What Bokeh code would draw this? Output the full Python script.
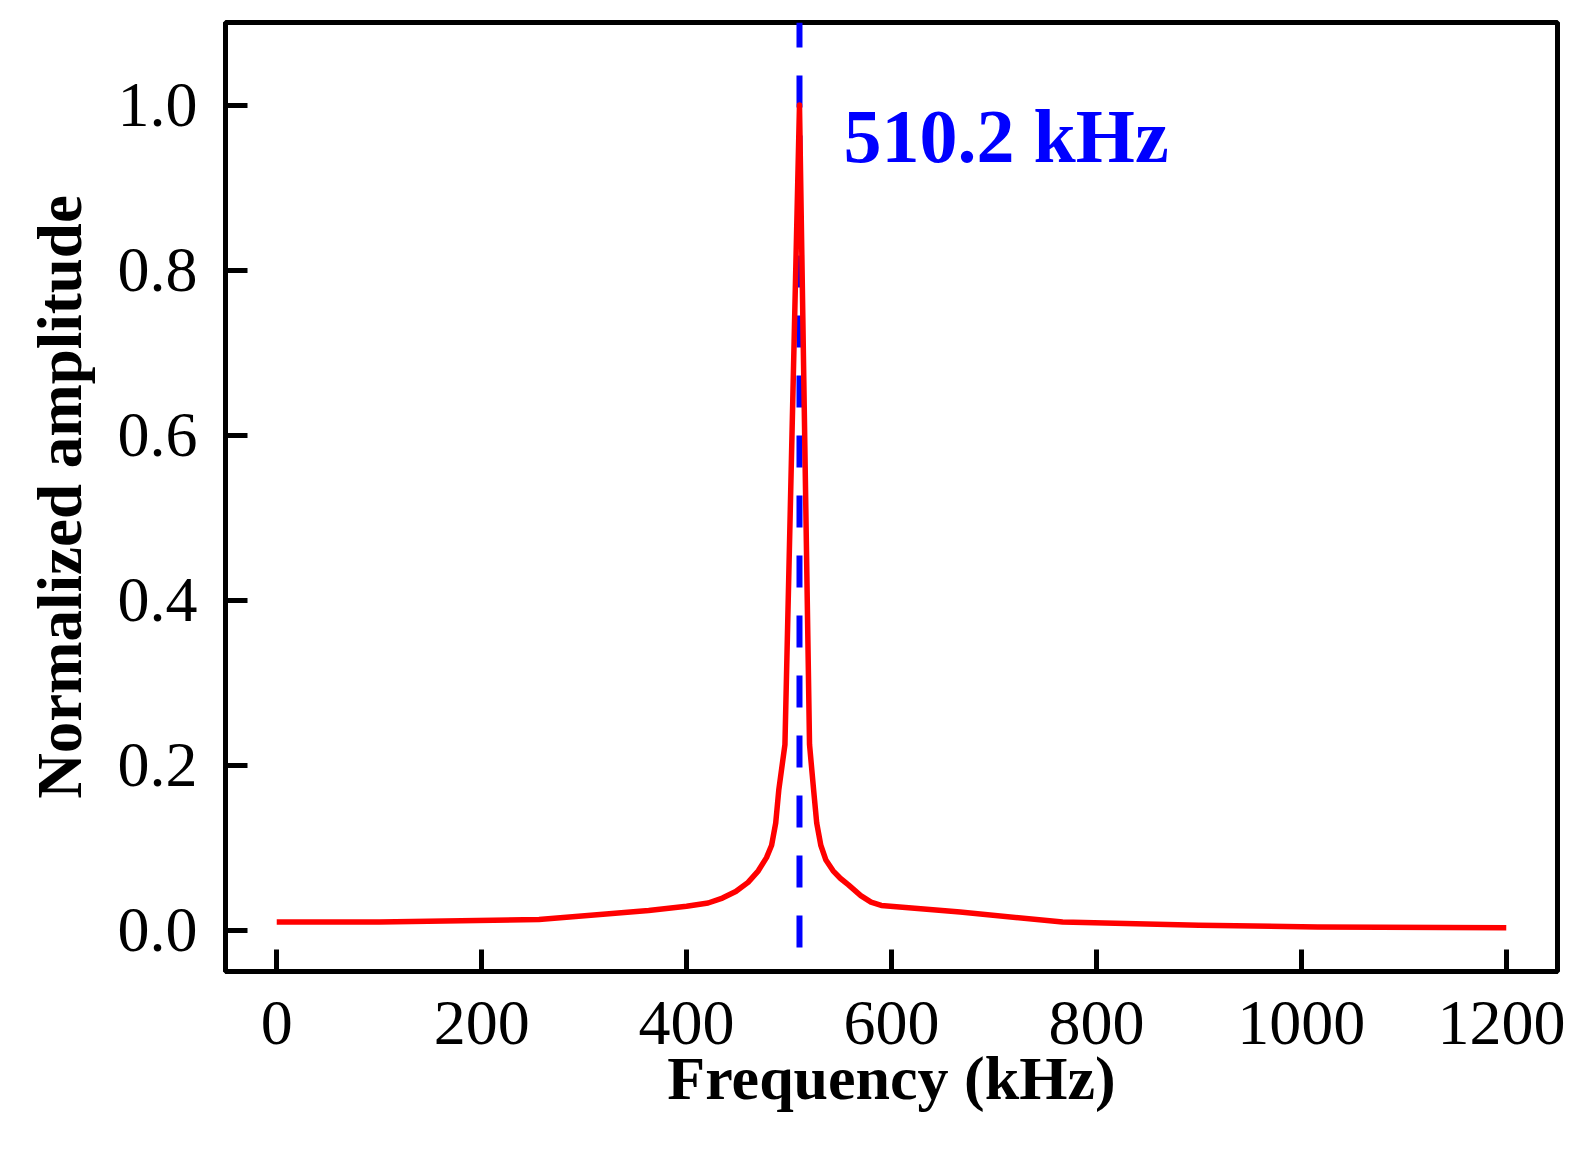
from bokeh.plotting import figure
from bokeh.models import Range1d, FixedTicker, ColumnDataSource, Label
from bokeh.embed import file_html
from bokeh.resources import INLINE

# Data
freq_khz = [0, 100, 256, 363, 400, 421, 435, 448, 460, 470, 478, 483, 487, 490, 496, 510.2,
            520, 524, 527, 531, 536, 543, 550, 558, 570, 580, 590, 667, 767, 900, 1016, 1200]
amplitude = [0.010, 0.010, 0.013, 0.024, 0.029, 0.033, 0.039, 0.047, 0.058, 0.072, 0.088, 0.103,
             0.130, 0.170, 0.225, 1.0,
             0.225, 0.170, 0.130, 0.103, 0.085, 0.072, 0.063, 0.055, 0.042, 0.034, 0.030, 0.022,
             0.010, 0.006, 0.004, 0.003]
peak_freq = 510.2
peak_label = "510.2 kHz"
x_ticks = [0, 200, 400, 600, 800, 1000, 1200]
y_ticks = [0.0, 0.2, 0.4, 0.6, 0.8, 1.0]
x_title = "Frequency (kHz)"
y_title = "Normalized amplitude"

FONT = "Liberation Serif"

p = figure(width=1565, height=1138, output_backend="svg", toolbar_location=None,
           x_range=Range1d(-50, 1250), y_range=Range1d(-0.05, 1.1),
           min_border_left=225, min_border_right=8, min_border_top=22, min_border_bottom=167)

p.grid.visible = False
p.outline_line_color = "black"
p.outline_line_width = 5
p.background_fill_color = "white"
p.border_fill_color = "white"

# peak marker (dashed)
src_peak = ColumnDataSource(dict(x=[peak_freq, peak_freq], y=[1.1, -0.05]))
p.line("x", "y", source=src_peak, line_color="#0000ff", line_width=6,
       line_dash="32 28", line_dash_offset=7)

# spectrum
src = ColumnDataSource(dict(x=freq_khz, y=amplitude))
p.line("x", "y", source=src, line_color="#ff0000", line_width=5.5, line_join="round")

p.add_layout(Label(x=peak_freq + 43, y=0.963, text=peak_label, text_font=FONT,
                   text_font_size="76px", text_font_style="bold", text_color="#0000ff",
                   text_baseline="alphabetic", text_align="left"))

p.xaxis.ticker = FixedTicker(ticks=x_ticks)
p.yaxis.ticker = FixedTicker(ticks=y_ticks)
p.yaxis.major_label_overrides = {v: f"{v:.1f}" for v in y_ticks}

for ax in (p.xaxis[0], p.yaxis[0]):
    ax.axis_line_width = 5
    ax.axis_line_color = "black"
    ax.major_tick_in = 22
    ax.major_tick_out = 0
    ax.major_tick_line_width = 5
    ax.major_tick_line_color = "black"
    ax.minor_tick_line_color = None
    ax.major_label_text_font = FONT
    ax.major_label_text_font_size = "64px"
    ax.major_label_text_color = "black"
    ax.axis_label_text_font = FONT
    ax.axis_label_text_font_style = "bold"
    ax.axis_label_text_color = "black"

p.xaxis.axis_label = x_title
p.xaxis.axis_label_text_font_size = "62px"
p.xaxis.major_label_standoff = 30
p.xaxis.axis_label_standoff = -3

p.yaxis.axis_label = y_title
p.yaxis.axis_label_text_font_size = "63px"
p.yaxis.major_label_standoff = 28
p.yaxis.axis_label_standoff = 20

with open("out.html", "w") as f:
    f.write(file_html(p, INLINE))
